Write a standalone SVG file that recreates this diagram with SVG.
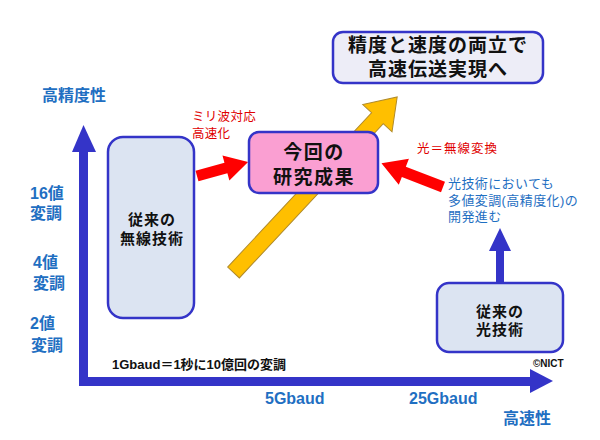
<svg xmlns="http://www.w3.org/2000/svg" width="600" height="440" viewBox="0 0 600 440">
<style>
text{font-family:"Liberation Sans","Noto Sans CJK JP",sans-serif}
.ax{fill:#1f6fc2;font-size:16px;font-weight:bold}
.bx{fill:#111;font-size:15px;font-weight:bold;text-anchor:middle;letter-spacing:1px}
.red{fill:#e00000;font-size:12.5px}
.blu{fill:#1f6fc2;font-size:13px;letter-spacing:0.4px}
.axis{fill:#3434c8}
</style>
<rect width="600" height="440" fill="#fff"/>
<g id="connectors">
<rect class="axis" x="79" y="150" width="9" height="236"/>
<polygon class="axis" points="72,152 96,152 83.5,125"/>
<rect class="axis" x="79" y="377" width="453" height="9"/>
<polygon class="axis" points="530,369 530,393 553,381"/>
<polygon fill="#ffbf00" stroke="#b08a2a" stroke-width="1" points="0,-8 211,-8 211,-20 240,0 211,20 211,8 0,8" transform="translate(233.5,272.5) rotate(-47)"/>
<polygon fill="#ff0000" points="0,-5.5 30,-5.5 30,-13 53,0 30,13 30,5.5 0,5.5" transform="translate(197,176) rotate(-15.4)"/>
<polygon fill="#ff0000" points="0,-5.5 42,-5.5 42,-14 66,0 42,14 42,5.5 0,5.5" transform="translate(443,187) rotate(-158.8)"/>
<polygon class="axis" points="496,283 496,251 489,251 500,228 511,251 504,251 504,283"/>
</g>
<g id="goal">
<rect x="333" y="32" width="210" height="51" rx="10" fill="#ededf7" stroke="#3434c8" stroke-width="2.5"/>
<text x="438" y="52" text-anchor="middle" font-size="19" font-weight="bold" letter-spacing="1" fill="#111">精度と速度の両立で</text>
<text x="438" y="76" text-anchor="middle" font-size="19" font-weight="bold" letter-spacing="1" fill="#111">高速伝送実現へ</text>
</g>
<g id="result">
<rect x="249" y="132" width="129" height="61" rx="10" fill="#fa9fd2" stroke="#3434c8" stroke-width="2.5"/>
<text x="314" y="159" text-anchor="middle" font-size="19" font-weight="bold" letter-spacing="1.5" fill="#111">今回の</text>
<text x="314" y="184" text-anchor="middle" font-size="19" font-weight="bold" letter-spacing="1.5" fill="#111">研究成果</text>
</g>
<g id="wireless">
<rect x="108" y="137" width="86" height="181" rx="15" fill="#dce4f2" stroke="#3434c8" stroke-width="2.5"/>
<text class="bx" x="152" y="225">従来の</text>
<text class="bx" x="152" y="244">無線技術</text>
</g>
<g id="optical">
<rect x="437" y="283" width="126" height="69" rx="12" fill="#dce4f2" stroke="#3434c8" stroke-width="2.5"/>
<text class="bx" x="500" y="317">従来の</text>
<text class="bx" x="500" y="335">光技術</text>
</g>
<g id="labels">
<text class="ax" x="42" y="101">高精度性</text>
<text class="ax" x="30" y="199">16値</text>
<text class="ax" x="30" y="219">変調</text>
<text class="ax" x="33" y="268">4値</text>
<text class="ax" x="33" y="289">変調</text>
<text class="ax" x="30" y="329">2値</text>
<text class="ax" x="31" y="351">変調</text>
<text class="ax" x="265" y="404">5Gbaud</text>
<text class="ax" x="409" y="404">25Gbaud</text>
<text class="ax" x="503" y="424">高速性</text>
<text x="112" y="369" font-size="13" font-weight="bold" fill="#111">1Gbaud＝1秒に10億回の変調</text>
<text x="533" y="367" font-size="10" font-weight="bold" fill="#111">©NICT</text>
<text class="red" x="192" y="121" letter-spacing="0.3">ミリ波対応</text>
<text class="red" x="192" y="138" letter-spacing="0.3">高速化</text>
<text class="red" x="417" y="153" letter-spacing="1">光＝無線変換</text>
<text class="blu" x="448" y="188">光技術においても</text>
<text class="blu" x="448" y="205" letter-spacing="1">多値変調(高精度化)の</text>
<text class="blu" x="448" y="221">開発進む</text>
</g>
</svg>
